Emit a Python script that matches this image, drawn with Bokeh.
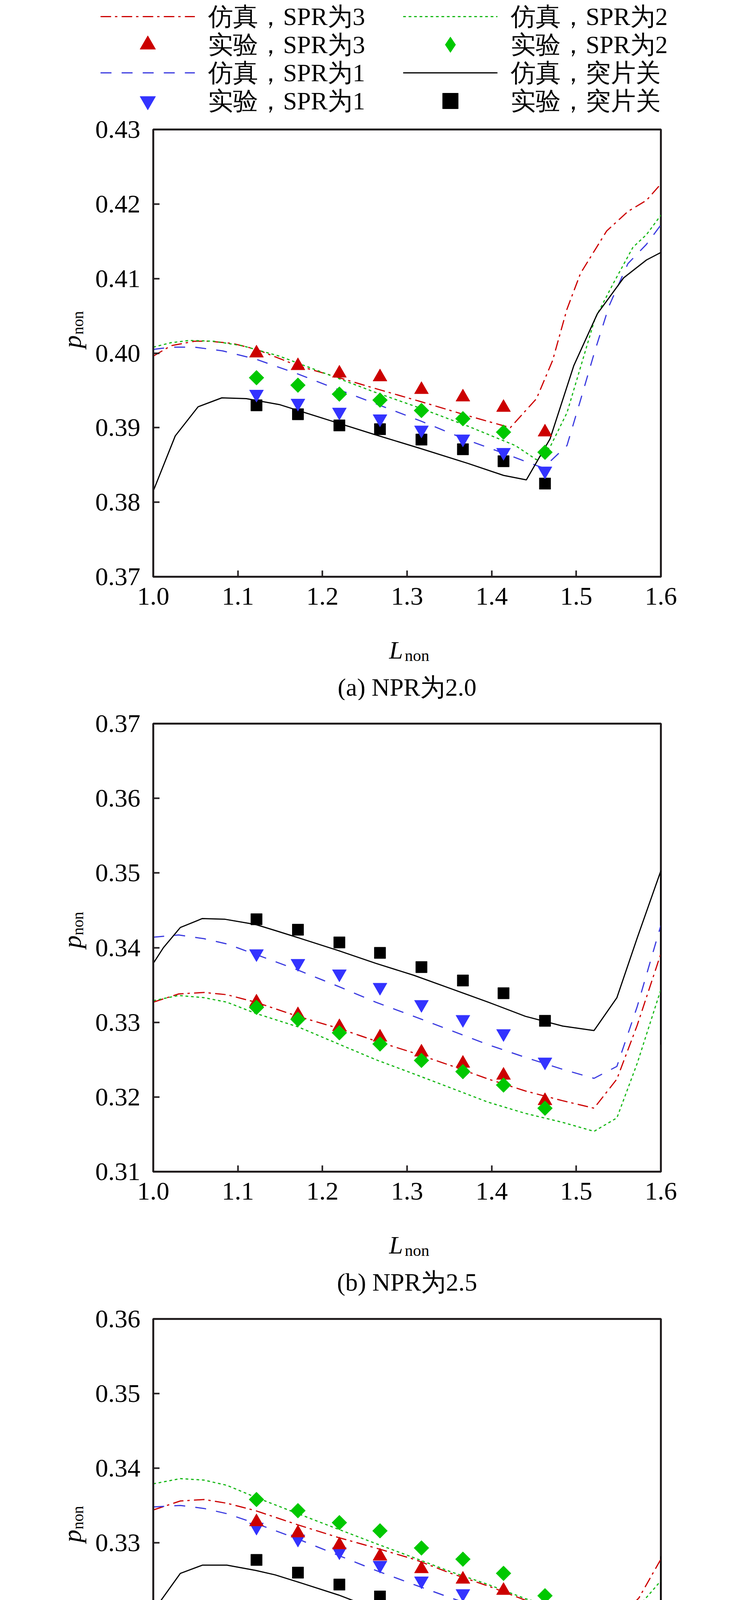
import math
from bokeh.plotting import figure
from bokeh.models import (Range1d, FixedTicker, NumeralTickFormatter, Legend, LegendItem)
from bokeh.core.properties import value
from bokeh.layouts import column, row
from bokeh.embed import file_html
from bokeh.resources import INLINE

# ---------------- data ----------------
X_TICKS = [1.0, 1.1, 1.2, 1.3, 1.4, 1.5, 1.6]
EXP_X = [1.122, 1.171, 1.220, 1.268, 1.317, 1.366, 1.414, 1.463]

LEGEND_LABELS = ["仿真，SPR为3", "实验，SPR为3", "仿真，SPR为1", "实验，SPR为1",
                 "仿真，SPR为2", "实验，SPR为2", "仿真，突片关", "实验，突片关"]
CAPTIONS = ["(a) NPR为2.0", "(b) NPR为2.5", "(c) NPR为3.0"]
Y_LABEL = ("p", "non")
X_LABEL = ("L", "non")

# ---- panel (a) NPR = 2.0 ----
A_Y_TICKS = [0.37, 0.38, 0.39, 0.40, 0.41, 0.42, 0.43]
A_EXP_SPR3 = [0.4000, 0.3983, 0.3973, 0.3968, 0.3951, 0.3941, 0.3927, 0.3894]
A_EXP_SPR2 = [0.3967, 0.3957, 0.3945, 0.3937, 0.3923, 0.3912, 0.3894, 0.3867]
A_EXP_SPR1 = [0.3945, 0.3933, 0.3921, 0.3912, 0.3897, 0.3885, 0.3867, 0.3842]
A_EXP_OFF = [0.3930, 0.3918, 0.3903, 0.3898, 0.3884, 0.3871, 0.3855, 0.3825]
A_SIM_SPR3_X = [1.0, 1.021, 1.049, 1.066, 1.094, 1.122, 1.171, 1.205, 1.261, 1.316,
                1.372, 1.422, 1.453, 1.472, 1.489, 1.505, 1.536, 1.561, 1.583, 1.6]
A_SIM_SPR3 = [0.3996, 0.4010, 0.4016, 0.4016, 0.4013, 0.4005, 0.3983, 0.3972, 0.3953, 0.3935,
              0.3916, 0.3900, 0.3939, 0.3990, 0.4059, 0.4107, 0.4164, 0.4190, 0.4205, 0.4227]
A_SIM_SPR2_X = [1.0, 1.021, 1.043, 1.071, 1.105, 1.149, 1.205, 1.261, 1.316, 1.372,
                1.428, 1.453, 1.469, 1.489, 1.505, 1.522, 1.544, 1.567, 1.583, 1.6]
A_SIM_SPR2 = [0.4008, 0.4014, 0.4017, 0.4016, 0.4010, 0.3996, 0.3972, 0.3948, 0.3926, 0.3902,
              0.3876, 0.3857, 0.3874, 0.3920, 0.3981, 0.4046, 0.4094, 0.4142, 0.4159, 0.4185]
A_SIM_SPR1_X = [1.0, 1.021, 1.049, 1.082, 1.121, 1.171, 1.205, 1.261, 1.316, 1.372,
                1.416, 1.439, 1.461, 1.489, 1.505, 1.522, 1.539, 1.561, 1.583, 1.6]
A_SIM_SPR1 = [0.4005, 0.4008, 0.4008, 0.4003, 0.3992, 0.3972, 0.3957, 0.3933, 0.3909, 0.3883,
              0.3865, 0.3855, 0.3846, 0.3876, 0.3937, 0.4003, 0.4064, 0.4120, 0.4146, 0.4172]
A_SIM_OFF_X = [1.0, 1.0, 1.026, 1.053, 1.081, 1.110, 1.149, 1.205, 1.261, 1.316,
               1.372, 1.414, 1.441, 1.469, 1.497, 1.525, 1.556, 1.583, 1.6]
A_SIM_OFF = [0.3856, 0.3815, 0.3889, 0.3928, 0.3940, 0.3939, 0.3931, 0.3911, 0.3891, 0.3872,
             0.3852, 0.3836, 0.3830, 0.3885, 0.3983, 0.4053, 0.4101, 0.4125, 0.4135]

# ---- panel (b) NPR = 2.5 ----
B_Y_TICKS = [0.31, 0.32, 0.33, 0.34, 0.35, 0.36, 0.37]
B_EXP_OFF = [0.3438, 0.3424, 0.3407, 0.3393, 0.3374, 0.3356, 0.3339, 0.3302]
B_EXP_SPR1 = [0.3392, 0.3379, 0.3365, 0.3347, 0.3324, 0.3304, 0.3285, 0.3247]
B_EXP_SPR3 = [0.3327, 0.3310, 0.3294, 0.3280, 0.3260, 0.3245, 0.3229, 0.3195]
B_EXP_SPR2 = [0.3320, 0.3304, 0.3286, 0.3271, 0.3249, 0.3234, 0.3216, 0.3185]
B_SIM_X = [1.0, 1.03, 1.06, 1.087, 1.121, 1.171, 1.219, 1.263, 1.308, 1.352,
           1.396, 1.44, 1.484, 1.521, 1.548, 1.572, 1.6]
B_SIM_SPR1 = [0.3414, 0.3417, 0.3412, 0.3405, 0.3391, 0.3370, 0.3348, 0.3327, 0.3308, 0.3289,
              0.3270, 0.3253, 0.3237, 0.3225, 0.3241, 0.3321, 0.3430]
B_SIM_SPR3 = [0.3327, 0.3338, 0.3340, 0.3337, 0.3327, 0.3308, 0.3292, 0.3275, 0.3259, 0.3242,
              0.3224, 0.3208, 0.3195, 0.3185, 0.3224, 0.3296, 0.3392]
B_SIM_SPR2 = [0.3329, 0.3336, 0.3333, 0.3327, 0.3312, 0.3294, 0.3271, 0.3250, 0.3231, 0.3212,
              0.3193, 0.3178, 0.3166, 0.3154, 0.3172, 0.3245, 0.3344]
B_SIM_OFF_X = [1.0, 1.012, 1.032, 1.058, 1.085, 1.121, 1.144, 1.175, 1.219, 1.263,
               1.308, 1.352, 1.396, 1.44, 1.484, 1.521, 1.548, 1.572, 1.6, 1.6]
B_SIM_OFF = [0.3379, 0.3400, 0.3427, 0.3439, 0.3438, 0.3431, 0.3423, 0.3412, 0.3396, 0.3379,
             0.3363, 0.3345, 0.3327, 0.3308, 0.3295, 0.3289, 0.3333, 0.3413, 0.3503, 0.3270]

# ---- panel (c) NPR = 3.0 ----
C_Y_TICKS = [0.30, 0.31, 0.32, 0.33, 0.34, 0.35, 0.36]
C_EXP_SPR2 = [0.3358, 0.3343, 0.3327, 0.3316, 0.3293, 0.3278, 0.3259, 0.3229]
C_EXP_SPR3 = [0.3328, 0.3313, 0.3297, 0.3282, 0.3265, 0.3251, 0.3236, 0.3198]
C_EXP_SPR1 = [0.3321, 0.3305, 0.3288, 0.3270, 0.3249, 0.3232, 0.3213, 0.3188]
C_EXP_OFF = [0.3277, 0.3260, 0.3244, 0.3228, 0.3205, 0.3192, 0.3174, 0.3142]
C_SIM_X = [1.0, 1.032, 1.06, 1.087, 1.121, 1.171, 1.219, 1.263, 1.308, 1.352,
           1.396, 1.44, 1.484, 1.548, 1.574, 1.6]
C_SIM_SPR2 = [0.3379, 0.3386, 0.3384, 0.3377, 0.3361, 0.3339, 0.3318, 0.3299, 0.3280, 0.3261,
              0.3244, 0.3225, 0.3211, 0.3197, 0.3215, 0.3249]
C_SIM_SPR3 = [0.3344, 0.3356, 0.3358, 0.3353, 0.3343, 0.3324, 0.3307, 0.3293, 0.3278, 0.3259,
              0.3242, 0.3223, 0.3209, 0.3196, 0.3226, 0.3278]
C_SIM_SPR1 = [0.3348, 0.3350, 0.3346, 0.3339, 0.3326, 0.3305, 0.3283, 0.3263, 0.3244, 0.3226,
              0.3209, 0.3192, 0.3177, 0.3163, 0.3186, 0.3213]
C_SIM_OFF_X = [1.0, 1.008, 1.032, 1.058, 1.087, 1.121, 1.144, 1.175, 1.219, 1.263,
               1.308, 1.352, 1.396, 1.44, 1.484, 1.524, 1.549, 1.576, 1.6, 1.6, 1.6]
C_SIM_OFF = [0.3209, 0.3221, 0.3259, 0.3270, 0.3270, 0.3263, 0.3257, 0.3246, 0.3230, 0.3211,
             0.3193, 0.3175, 0.3156, 0.3140, 0.3127, 0.3119, 0.3112, 0.3146, 0.3200, 0.3282, 0.3169]

# ---------------- style / layout (page pixels) ----------------
SERIF = "Liberation Serif"
RED, GREEN, BLUE, BLACK = "#cc0000", "#00c800", "#3333ff", "#000000"
RED_L, GREEN_L, BLUE_L = "#cc0000", "#16b816", "#3a3ae0"
FRAME_COL = "#231f20"
PAGE_X0 = PAGE_Y0 = 8          # body margin
PAGE_W = 1874
YLAB_W = 232
MAIN_W = PAGE_W - YLAB_W
FRAME_L = 400                  # page x of the frame's left edge
FRAME_W = 1300
LEFT = FRAME_L - PAGE_X0 - YLAB_W
RIGHT = MAIN_W - LEFT - FRAME_W
LEGEND_END = 312
LEGEND_ROWS = [50, 122, 194, 266]      # page y of the legend row centres
LEGEND_COLS = [265, 1040]              # page x where each column's sample starts

STYLES = {
    "s3": dict(kind="line", line_color=RED_L, line_width=3, line_dash="27 10 6 11"),
    "s2": dict(kind="line", line_color=GREEN_L, line_width=3, line_dash="7 7"),
    "s1": dict(kind="line", line_color=BLUE_L, line_width=3, line_dash="28 26"),
    "s0": dict(kind="line", line_color=BLACK, line_width=3),
    "e3": dict(kind="scatter", marker="triangle", size=36, fill_color=RED, line_color=RED),
    "e2": dict(kind="scatter", marker="square", angle=math.pi / 4, size=27,
               fill_color=GREEN, line_color=GREEN),
    "e2_key": dict(kind="scatter", marker="diamond", size=40, fill_color=GREEN, line_color=GREEN),
    "e1": dict(kind="scatter", marker="inverted_triangle", size=36, fill_color=BLUE, line_color=BLUE),
    "e0": dict(kind="scatter", marker="square", size=29, fill_color=BLACK, line_color=BLACK),
}


def draw(p, key, x, y):
    st = dict(STYLES[key])
    kind = st.pop("kind")
    if kind == "line":
        return p.line(x, y, **st)
    return p.scatter(x, y, **st)


class Blank:
    """A figure whose frame is the whole canvas; texts placed in page pixels."""

    def __init__(self, width, height, page_x0, page_y0):
        self.x0, self.y0 = page_x0, page_y0
        p = figure(width=width, height=height, x_range=Range1d(0, width),
                   y_range=Range1d(0, height), output_backend="svg", toolbar_location=None,
                   x_axis_location=None, y_axis_location=None, min_border=0,
                   outline_line_color=None)
        for g in p.grid:
            g.visible = False
        p.background_fill_color = "white"
        p.border_fill_color = "white"
        self.p = p

    def put(self, px, py, s, size, style="normal", angle=0.0, align="left"):
        self.p.text(x=[px - self.x0], y=[self.p.height - (py - self.y0)], text=[s], angle=angle,
                    text_font=value(SERIF), text_font_size=size, text_font_style=style,
                    text_align=align, text_baseline="alphabetic", text_color="black")


def main_panel(height, top, frame_h, yr, yticks, sims, exps):
    p = figure(width=MAIN_W, height=height, x_range=Range1d(1.0, 1.6),
               y_range=Range1d(yr[0], yr[1]), output_backend="svg",
               toolbar_location=None, min_border_left=LEFT, min_border_right=RIGHT,
               min_border_top=top, min_border_bottom=height - top - frame_h)
    p.xgrid.visible = False
    p.ygrid.visible = False
    p.outline_line_color = FRAME_COL
    p.outline_line_width = 5
    p.background_fill_color = "white"
    p.border_fill_color = "white"
    p.xaxis.ticker = FixedTicker(ticks=X_TICKS)
    p.xaxis.formatter = NumeralTickFormatter(format="0.0")
    p.yaxis.ticker = FixedTicker(ticks=yticks)
    p.yaxis.formatter = NumeralTickFormatter(format="0.00")
    for ax in (p.xaxis, p.yaxis):
        ax.axis_line_color = FRAME_COL
        ax.axis_line_width = 5
        ax.major_tick_line_color = FRAME_COL
        ax.major_tick_line_width = 4
        ax.major_tick_in = 16
        ax.major_tick_out = 0
        ax.minor_tick_line_color = None
        ax.major_label_text_font = SERIF
        ax.major_label_text_font_size = "66px"
        ax.major_label_text_color = "black"
    p.xaxis.major_label_standoff = 28
    p.yaxis.major_label_standoff = 33
    (x3, y3), (x2, y2), (x1, y1), (x0, y0) = sims
    draw(p, "s3", x3, y3)
    draw(p, "s2", x2, y2)
    draw(p, "s1", x1, y1)
    draw(p, "s0", x0, y0)
    e3, e2, e1, e0 = exps
    draw(p, "e0", EXP_X, e0)
    draw(p, "e1", EXP_X, e1)
    draw(p, "e3", EXP_X, e3)
    draw(p, "e2", EXP_X, e2)
    return p


def section(y_start, frame_top, frame_bot, y_end, yr, yticks, sims, exps, caption, cap_base):
    main_end = frame_bot + 126          # leaves room for the x tick labels
    l_base = main_end + 62
    h = main_end - y_start
    ylab = Blank(YLAB_W, h, PAGE_X0, y_start)
    # rotated title, anchored at the end of each piece so it grows away from the edge
    ylab.put(192, frame_top + 570, Y_LABEL[0], "66px", style="italic",
             angle=math.pi / 2, align="right")
    ylab.put(207, frame_top + 500, Y_LABEL[1], "40px", angle=math.pi / 2, align="right")
    main = main_panel(h, frame_top - y_start, frame_bot - frame_top, yr, yticks, sims, exps)
    below = Blank(PAGE_W, y_end - main_end, PAGE_X0, main_end)
    below.put(1004, l_base, X_LABEL[0], "64px", style="italic")
    below.put(1044, l_base + 13, X_LABEL[1], "42px")
    below.put(FRAME_L + FRAME_W / 2, cap_base, caption, "64px", align="center")
    return column(row(ylab.p, main, spacing=0), below.p, spacing=0)


# ---------------- legend block (one key per entry, 2 columns x 4 rows) ----------------
NAN = [float("nan")]
leg = Blank(PAGE_W, LEGEND_END - PAGE_Y0, PAGE_X0, PAGE_Y0)
ITEM_H = 100
col_keys = [["s3", "e3", "s1", "e1"], ["s2", "e2_key", "s0", "e0"]]
for ci, keys in enumerate(col_keys):
    for ri, key in enumerate(keys):
        item = LegendItem(label=LEGEND_LABELS[ci * 4 + ri], renderers=[draw(leg.p, key, NAN, NAN)])
        vy = leg.p.height - (LEGEND_ROWS[ri] - PAGE_Y0) - ITEM_H / 2
        lg = Legend(items=[item], location=(LEGEND_COLS[ci] - PAGE_X0, vy),
                    orientation="vertical", glyph_width=242, glyph_height=ITEM_H,
                    label_height=ITEM_H, label_width=420, label_standoff=34,
                    spacing=0, padding=0, margin=0,
                    label_text_font=SERIF, label_text_font_size="64px",
                    label_text_color="black", label_text_baseline="middle",
                    border_line_color=None, background_fill_alpha=0)
        leg.p.add_layout(lg, "center")

sec_a = section(LEGEND_END, 339, 1484, 1800, (0.37, 0.43), A_Y_TICKS,
                [(A_SIM_SPR3_X, A_SIM_SPR3), (A_SIM_SPR2_X, A_SIM_SPR2),
                 (A_SIM_SPR1_X, A_SIM_SPR1), (A_SIM_OFF_X, A_SIM_OFF)],
                [A_EXP_SPR3, A_EXP_SPR2, A_EXP_SPR1, A_EXP_OFF], CAPTIONS[0], 1767)
sec_b = section(1800, 1860, 3007, 3330, (0.31, 0.37), B_Y_TICKS,
                [(B_SIM_X, B_SIM_SPR3), (B_SIM_X, B_SIM_SPR2),
                 (B_SIM_X, B_SIM_SPR1), (B_SIM_OFF_X, B_SIM_OFF)],
                [B_EXP_SPR3, B_EXP_SPR2, B_EXP_SPR1, B_EXP_OFF], CAPTIONS[1], 3290)
sec_c = section(3330, 3384, 4530, 4821, (0.30, 0.36), C_Y_TICKS,
                [(C_SIM_X, C_SIM_SPR3), (C_SIM_X, C_SIM_SPR2),
                 (C_SIM_X, C_SIM_SPR1), (C_SIM_OFF_X, C_SIM_OFF)],
                [C_EXP_SPR3, C_EXP_SPR2, C_EXP_SPR1, C_EXP_OFF], CAPTIONS[2], 4801)

layout = column(leg.p, sec_a, sec_b, sec_c, spacing=0)
open("out.html", "w").write(file_html(layout, INLINE))
